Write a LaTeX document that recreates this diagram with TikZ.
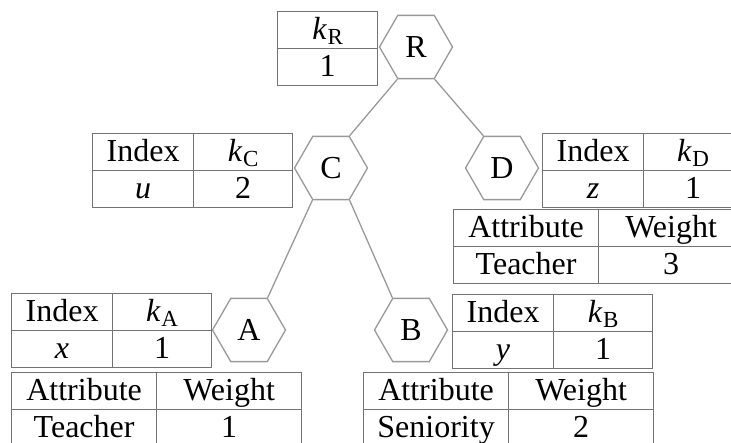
\documentclass[tikz,border=0pt]{standalone}
\usepackage{fontspec}
\setmainfont{Liberation Serif}
\usetikzlibrary{positioning}
\usetikzlibrary{matrix}
\usetikzlibrary{shapes.geometric}
\definecolor{hexline}{gray}{0.6}
\definecolor{tblline}{gray}{0.45}
\newcommand{\kk}[1]{\textit{k}\kern0.5pt\raisebox{-0.3ex}{\fontsize{23}{23}\selectfont #1}}
\tikzset{hex/.style = {regular polygon, regular polygon sides=6, draw=hexline,
                       line width=1.3pt, minimum size=73pt, inner sep=0pt}}
\tikzset{edge/.style = {draw=hexline, line width=1.3pt}}
\tikzset{tbl/.style = {matrix of nodes, anchor=north west, inner sep=0pt, outer sep=0pt,
                       column sep=-1.2pt, row sep=-1.2pt,
                       nodes={draw=tblline, line width=1.2pt, minimum height=37pt,
                              inner sep=0pt, text height=24pt, text depth=5pt}}}
\tikzset{idxcols/.style = {column 1/.style={nodes={minimum width=101pt}},
                           column 2/.style={nodes={minimum width=99pt}}}}
\tikzset{attrcols/.style = {column 1/.style={nodes={minimum width=145pt}},
                            column 2/.style={nodes={minimum width=145pt}}}}

\begin{document}
\begin{tikzpicture}[x=1pt, y=-1pt, font=\fontsize{32}{37}\selectfont]
    \useasboundingbox (0,0) rectangle (731,442);
    % tree
    \node[hex] (R) at (416,47) {R};
    \node[hex] (C) at (331,168) {C};
    \node[hex] (D) at (502,168) {D};
    \node[hex] (A) at (249,330) {A};
    \node[hex] (B) at (411,330) {B};
    \draw[edge] (R.240) -- (C.60);
    \draw[edge] (R.300) -- (D.120);
    \draw[edge] (C.240) -- (A.60);
    \draw[edge] (C.300) -- (B.120);
    % tables
    \matrix (tR) [tbl, column 1/.style={nodes={minimum width=100pt}}] at (277,11) {
        \kk{R} \\
        1 \\
    };
    \matrix (tC) [tbl, idxcols] at (92,133) {
        Index & \kk{C} \\
        \textit{u} & 2 \\
    };
    \matrix (tD) [tbl, idxcols] at (542,133) {
        Index & \kk{D} \\
        \textit{z} & 1 \\
    };
    \matrix (wD) [tbl, attrcols] at (453,209) {
        Attribute & Weight \\
        Teacher & 3 \\
    };
    \matrix (tA) [tbl, idxcols] at (11,293) {
        Index & \kk{A} \\
        \textit{x} & 1 \\
    };
    \matrix (wA) [tbl, attrcols] at (11,372) {
        Attribute & Weight \\
        Teacher & 1 \\
    };
    \matrix (tB) [tbl, idxcols] at (452,294) {
        Index & \kk{B} \\
        \textit{y} & 1 \\
    };
    \matrix (wB) [tbl, attrcols] at (363,372) {
        Attribute & Weight \\
        Seniority & 2 \\
    };
\end{tikzpicture}
\end{document}
